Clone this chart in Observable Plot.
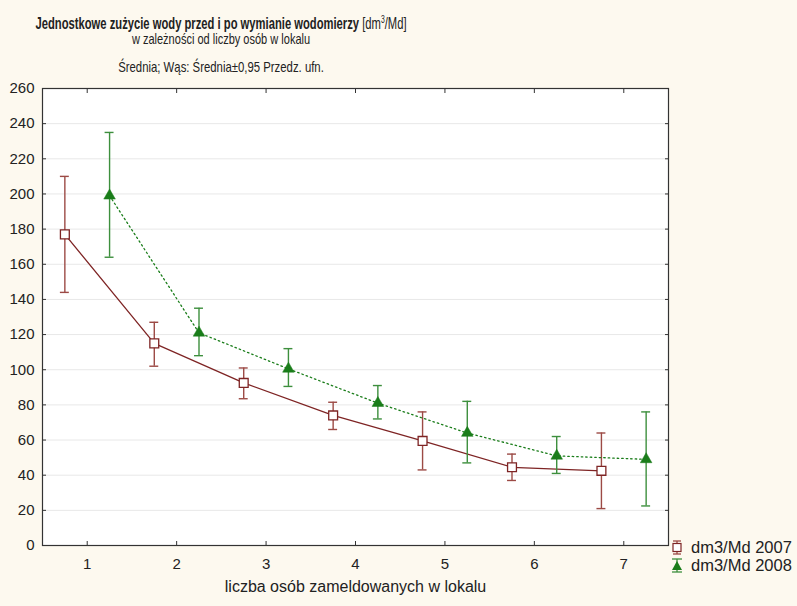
<!DOCTYPE html>
<html>
<head>
<meta charset="utf-8">
<script src="https://cdn.jsdelivr.net/npm/d3@7"></script>
<script src="https://cdn.jsdelivr.net/npm/@observablehq/plot@0.6"></script>
<style>
  html, body { margin: 0; padding: 0; background: #fdf9ef; }
  #wrap { position: relative; width: 797px; height: 606px; background: #fdf9ef; font-family: "Liberation Sans", Arial, sans-serif; color: #222; overflow: hidden; }
  .t { position: absolute; left: -200px; width: 842px; text-align: center; white-space: nowrap; font-family: "Liberation Sans", Arial, sans-serif; transform-origin: 421px 0; }
  #t1 { top: 17px; font-size: 16.5px; line-height: 13px; transform: scaleX(0.68); }
  #t1 b { font-weight: bold; }
  #t2 { top: 33px; font-size: 14.5px; line-height: 12px; transform: scaleX(0.76); }
  #t3 { top: 61px; font-size: 15px; line-height: 12px; transform: scaleX(0.757); }
  #chart { position: absolute; left: 0; top: 80px; }
  #legend { position: absolute; left: 668px; top: 539px; font-size: 16.5px; line-height: 17.5px; }
  #legend div { display: flex; align-items: center; }
  #legend svg { margin-right: 5px; }
</style>
</head>
<body>
<div id="wrap">
  <div class="t" id="t1"><b>Jednostkowe zużycie wody przed i po wymianie wodomierzy</b> [dm<sup style="font-size:10px;line-height:0">3</sup>/Md]</div>
  <div class="t" id="t2">w zależności od liczby osób w lokalu</div>
  <div class="t" id="t3">Średnia; Wąs: Średnia±0,95 Przedz. ufn.</div>
  <div id="chart"></div>
  <div id="legend"></div>
</div>
<script>
const persons = [1, 2, 3, 4, 5, 6, 7];
const mean2007 = [177, 115, 92.5, 74, 59.5, 44.5, 42.5];
const lo2007   = [144, 102, 83.5, 66, 43, 37, 21];
const hi2007   = [210, 127, 101, 81.5, 76, 52, 64];
const mean2008 = [199, 121, 100.5, 81, 64, 51, 49];
const lo2008   = [164, 108, 90.5, 72, 47, 41, 22.5];
const hi2008   = [235, 135, 112, 91, 82, 62, 76];
const seriesNames = ["dm3/Md 2007", "dm3/Md 2008"];
const yTicks = d3.range(0, 261, 20);

const c2007 = "#7e2424", c2007bar = "#9c4a45";
const c2008 = "#1a7d1a", c2008bar = "#3d8f3d";

const d07 = persons.map((p, i) => ({x: p - 0.25, m: mean2007[i], lo: lo2007[i], hi: hi2007[i]}));
const d08 = persons.map((p, i) => ({x: p + 0.25, m: mean2008[i], lo: lo2008[i], hi: hi2008[i]}));
const cap = 0.05;

const chart = Plot.plot({
  width: 797,
  height: 526,
  marginTop: 8,
  marginBottom: 61,
  marginLeft: 42,
  marginRight: 129,
  style: {background: "transparent", fontFamily: "Liberation Sans, Arial, sans-serif", fontSize: "15px", color: "#222"},
  x: {domain: [0.5, 7.5], ticks: persons},
  y: {domain: [0, 260], ticks: yTicks},
  marks: [
    Plot.frame({fill: "white"}),
    Plot.gridY(yTicks, {stroke: "#e8e8e8", strokeOpacity: 1}),
    // 2007
    Plot.line(d07, {x: "x", y: "m", stroke: c2007, strokeWidth: 1.3}),
    Plot.ruleX(d07, {x: "x", y1: "lo", y2: "hi", stroke: c2007bar, strokeWidth: 1.4}),
    Plot.ruleY(d07, {y: "lo", x1: d => d.x - cap, x2: d => d.x + cap, stroke: c2007bar, strokeWidth: 1.4}),
    Plot.ruleY(d07, {y: "hi", x1: d => d.x - cap, x2: d => d.x + cap, stroke: c2007bar, strokeWidth: 1.4}),
    Plot.dot(d07, {x: "x", y: "m", symbol: "square", r: 5, fill: "white", stroke: c2007, strokeWidth: 1.3}),
    // 2008
    Plot.line(d08, {x: "x", y: "m", stroke: c2008, strokeWidth: 1.3, strokeDasharray: "1.5,3"}),
    Plot.ruleX(d08, {x: "x", y1: "lo", y2: "hi", stroke: c2008bar, strokeWidth: 1.4}),
    Plot.ruleY(d08, {y: "lo", x1: d => d.x - cap, x2: d => d.x + cap, stroke: c2008bar, strokeWidth: 1.4}),
    Plot.ruleY(d08, {y: "hi", x1: d => d.x - cap, x2: d => d.x + cap, stroke: c2008bar, strokeWidth: 1.4}),
    Plot.dot(d08, {x: "x", y: "m", symbol: "triangle", r: 4.3, fill: c2008, stroke: c2008, strokeWidth: 0.5}),
    // axes
    Plot.axisY(yTicks, {anchor: "left", tickSize: -4, tickPadding: 12, stroke: "#333", fill: "#222"}),
    Plot.axisY(yTicks, {anchor: "right", tickSize: -4, tickFormat: () => "", stroke: "#333"}),
    Plot.axisX(persons, {anchor: "bottom", tickSize: -4, tickPadding: 17, stroke: "#333", fill: "#222", label: null}),
    Plot.axisX(persons, {anchor: "top", tickSize: -4, tickFormat: () => "", stroke: "#333", label: null}),
    Plot.frame({stroke: "#333", strokeWidth: 1.2}),
    Plot.text(["liczba osób zameldowanych w lokalu"], {frameAnchor: "bottom", dy: 46, fontSize: 16, fill: "#222"})
  ]
});
document.getElementById("chart").appendChild(chart);

// legend
const leg = document.getElementById("legend");
const symbols = [
  `<svg width="18" height="17"><line x1="9" y1="2" x2="9" y2="15" stroke="${c2007bar}" stroke-width="1.3"/><line x1="5" y1="2" x2="13" y2="2" stroke="${c2007bar}" stroke-width="1.3"/><line x1="5" y1="15" x2="13" y2="15" stroke="${c2007bar}" stroke-width="1.3"/><rect x="5" y="4.5" width="8" height="8" fill="white" stroke="${c2007}" stroke-width="1.2"/></svg>`,
  `<svg width="18" height="17"><line x1="9" y1="2" x2="9" y2="15" stroke="${c2008bar}" stroke-width="1.3"/><line x1="4" y1="2" x2="14" y2="2" stroke="${c2008bar}" stroke-width="1.3"/><line x1="4" y1="15" x2="14" y2="15" stroke="${c2008bar}" stroke-width="1.3"/><polygon points="9,4 14,13 4,13" fill="${c2008}"/></svg>`
];
seriesNames.forEach((n, i) => {
  const row = document.createElement("div");
  row.innerHTML = symbols[i] + `<span>${n}</span>`;
  leg.appendChild(row);
});
</script>
</body>
</html>
